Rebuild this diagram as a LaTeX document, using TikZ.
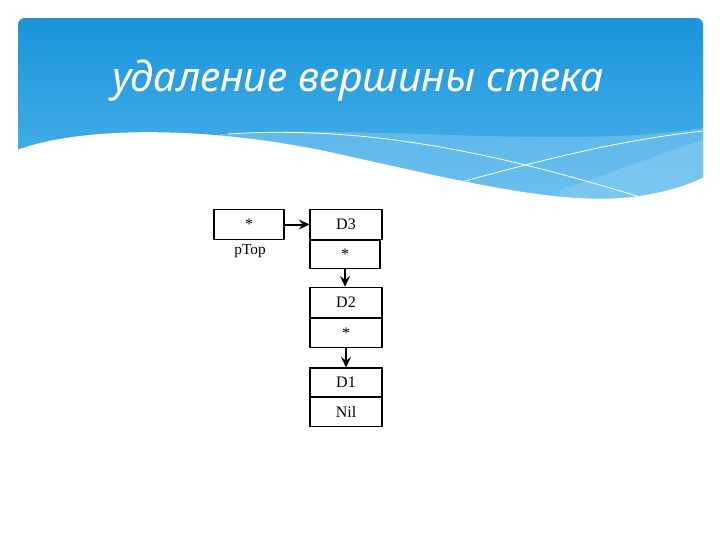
\documentclass[tikz,border=0pt]{standalone}
\usepackage{fontspec}
\setmainfont{Liberation Serif}
\newfontfamily\titlefont[Language=Russian]{Noto Sans}
\usetikzlibrary{arrows.meta}

\definecolor{bannerTop}{RGB}{26,148,219}
\definecolor{bannerBot}{RGB}{84,183,236}
\definecolor{bandLight}{RGB}{140,206,243}

\tikzset{
	cell/.style={draw=black, line width=0.8pt, fill=white, inner sep=0pt, minimum width=54pt, minimum height=23pt, font=\fontsize{12}{14}\selectfont},
	link/.style={draw=black, line width=1.5pt, -{Stealth[length=8pt, width=7.5pt, inset=3pt]}}
}

\begin{document}
\begin{tikzpicture}[x=0.75pt,y=0.75pt,yscale=-1,xscale=1]
	\useasboundingbox (0,0) rectangle (720,540);
	\fill[white] (0,0) rectangle (720,540);

	%Shape: Banner
	\begin{scope}
	\clip[rounded corners=5pt] (18,18) rectangle (703,215);
	\shade[top color=bannerTop, bottom color=bannerBot] (18,18) rectangle (703,215);
	%Shape: Light bands
	\fill[bandLight, opacity=0.45] (220,134) .. controls (380,124) and (560,150) .. (703,128) -- (703,215) -- (220,215) -- cycle;
	\fill[bandLight, opacity=0.5] (560,190) .. controls (620,170) and (670,150) .. (703,140) -- (703,215) -- (560,215) -- cycle;
	%Curve Lines
	\draw[white, line width=0.6] (228,134) .. controls (380,124) and (520,160) .. (650,200);
	\draw[white, line width=0.6] (440,188) .. controls (540,160) and (620,140) .. (703,131);
	\end{scope}
	%Shape: White wave
	\fill[white] (12,152) .. controls (70,128) and (190,124) .. (320,150) .. controls (450,178) and (560,208) .. (640,196) .. controls (670,191) and (690,185) .. (710,174) -- (710,225) -- (12,225) -- cycle;

	% Text Node
	\node[anchor=base, text=white, font=\titlefont\itshape\fontsize{30.8}{36}\selectfont] (title) at (358,91) {удаление вершины стека};

	%Shape: Rectangle
	\node[cell, minimum width=52.5pt] (ptr) at (249,224.5) {*};
	% Text Node
	\node[anchor=north, inner sep=0pt, font=\fontsize{11.5}{13}\selectfont] (ptrlabel) at (250,244) {pTop};

	%Shape: Rectangle
	\node[cell] (d3) at (346,224.5) {D3};
	\node[cell, minimum width=52.5pt, minimum height=21pt, anchor=north] (d3n) at (345,240) {*};
	\node[cell] (d2) at (346,302.5) {D2};
	\node[cell, minimum height=21.75pt, anchor=north] (d2n) at (346,318) {*};
	\node[cell, minimum height=21.75pt] (d1) at (346,382.5) {D1};
	\node[cell, minimum height=21.75pt, anchor=north] (d1n) at (346,397) {Nil};

	%Straight Lines
	\draw[link] (ptr.east) -- (d3.west);
	\draw[link] (d3n.south) -- (d3n.south |- d2.north);
	\draw[link] (d2n.south) -- (d1.north);

\end{tikzpicture}
\end{document}
